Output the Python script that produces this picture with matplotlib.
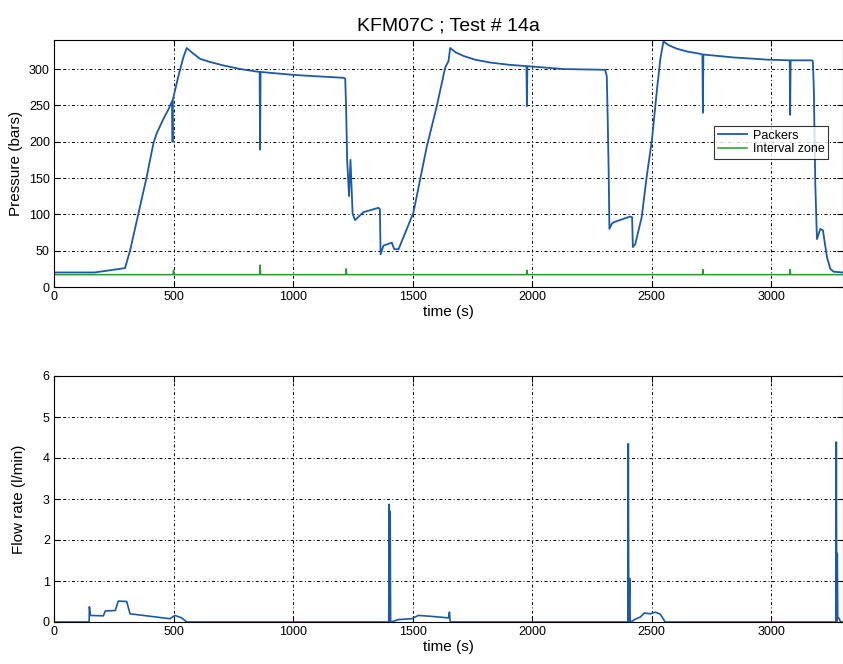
import matplotlib
matplotlib.use("Agg")
import matplotlib.pyplot as plt

plt.rcParams['font.family'] = ['Liberation Sans', 'DejaVu Sans']

# ---- data ----
# Packers pressure (bars)
packer_t = [0, 170, 297, 318, 353, 388, 400, 416, 430, 443, 460, 478, 494, 496, 497, 500, 520, 540, 555,
            580, 611, 650, 708, 780, 860, 862, 864, 1001, 1100, 1210, 1218, 1222, 1226, 1234, 1240, 1249, 1259,
            1294, 1357, 1363, 1366, 1378, 1413, 1423, 1441, 1503, 1559, 1601, 1636, 1650, 1657,
            1680, 1713, 1760, 1824, 1900, 1976, 1978, 1980, 2131, 2305, 2312, 2316, 2320, 2323, 2333, 2340, 2410,
            2418, 2421, 2431, 2458, 2479, 2501, 2522, 2536, 2549,
            2570, 2605, 2650, 2703, 2712, 2714, 2716, 2842, 2982, 3077, 3079, 3081, 3170, 3174, 3178, 3184,
            3191, 3205, 3216, 3233, 3247, 3261, 3300]
packer_p = [20, 20, 26, 50, 101, 152, 172, 198, 212, 221, 233, 244, 256, 200, 258, 262, 290, 315, 329,
            322, 314, 310, 305, 300, 296, 189, 296, 292, 290, 288, 287, 244, 175, 125, 175, 101, 92,
            103, 109, 107, 45, 57, 61, 52, 52, 102, 193, 249, 302, 311, 329,
            323, 318, 313, 309, 306, 304, 249, 304, 300, 299, 290, 230, 156, 80, 87, 89, 97,
            96, 55, 59, 96, 152, 203, 272, 314, 338,
            333, 328, 324, 321, 320, 240, 320, 316, 313, 312, 237, 312, 312, 311, 272, 143,
            66, 80, 78, 41, 25, 21, 20]

# Interval zone pressure (bars)
interval_t = [0, 498, 500, 502, 860, 862, 864, 1220, 1222, 1224, 1976, 1978, 1980,
              2712, 2714, 2716, 3077, 3079, 3081, 3300]
interval_p = [17, 17, 23, 17, 17, 30, 17, 17, 25, 17, 17, 23, 17,
              17, 24, 17, 17, 24, 17, 17]

# Flow rate (l/min)
flow_t = [0, 147, 148, 152, 206, 215, 256, 269, 304, 318, 485, 506, 534, 555,
          1400, 1402, 1404, 1406, 1408, 1410, 1441, 1496, 1524, 1573, 1650, 1654, 1657,
          2400, 2402, 2404, 2408, 2410, 2412, 2435, 2452, 2470, 2494, 2515, 2536, 2552, 2556,
          3270, 3272, 3274, 3276, 3278, 3282, 3290, 3300]
flow_q = [0, 0, 0.37, 0.16, 0.15, 0.27, 0.28, 0.51, 0.50, 0.20, 0.08, 0.16, 0.10, 0,
          0, 2.87, 0, 2.70, 0, 0, 0.06, 0.08, 0.16, 0.14, 0.10, 0.24, 0,
          0, 4.35, 0, 1.06, 0, 0, 0.08, 0.12, 0.22, 0.20, 0.24, 0.19, 0.04, 0,
          0, 4.39, 0, 1.67, 0.1, 0.1, 0, 0]

x_ticks = [0, 500, 1000, 1500, 2000, 2500, 3000]
p_ticks = [0, 50, 100, 150, 200, 250, 300]
q_ticks = [0, 1, 2, 3, 4, 5, 6]

blue = '#1c5aa6'
green = '#2a9a2a'

fig = plt.figure(figsize=(8.43, 6.64), dpi=100)
W, H = 843, 664

def axpos(l, t, r, b):
    return [l / W, 1 - b / H, (r - l) / W, (b - t) / H]

grid_kw = dict(color='black', linestyle=(0, (3, 2.5, 1, 2.5)), linewidth=0.7)

ax1 = fig.add_axes(axpos(54, 40, 843, 287))
ax1.plot(packer_t, packer_p, color=blue, linewidth=1.3, label='Packers')
ax1.plot(interval_t, interval_p, color=green, linewidth=1.1, label='Interval zone')
ax1.set_xlim(0, 3300)
ax1.set_ylim(0, 340)
ax1.set_xticks(x_ticks)
ax1.set_yticks(p_ticks)
ax1.set_xlabel('time (s)', fontsize=11, labelpad=1)
ax1.set_ylabel('Pressure (bars)', fontsize=11, labelpad=4)
ax1.set_title('KFM07C ; Test # 14a', fontsize=14, pad=7)
ax1.grid(True, **grid_kw)
leg = ax1.legend(loc='upper left', bbox_to_anchor=((714 - 54) / 789, 1 - (126 - 40) / 247),
                 fontsize=9, frameon=True, fancybox=False, edgecolor='black',
                 borderpad=0.3, handlelength=2.3, handletextpad=0.5,
                 labelspacing=0.1, borderaxespad=0)
leg.get_frame().set_linewidth(0.8)

ax2 = fig.add_axes(axpos(54, 376, 843, 622))
ax2.plot(flow_t, flow_q, color=blue, linewidth=1.2)
ax2.set_xlim(0, 3300)
ax2.set_ylim(0, 6)
ax2.set_xticks(x_ticks)
ax2.set_yticks(q_ticks)
ax2.set_xlabel('time (s)', fontsize=11, labelpad=1)
ax2.set_ylabel('Flow rate (l/min)', fontsize=11, labelpad=12)
ax2.grid(True, **grid_kw)

for ax in (ax1, ax2):
    ax.tick_params(direction='in', length=4, width=0.8, labelsize=9,
                   top=True, right=True, pad=3)
    for s in ax.spines.values():
        s.set_linewidth(0.8)
    ax.set_axisbelow(True)

fig.savefig('out.png', dpi=100)
